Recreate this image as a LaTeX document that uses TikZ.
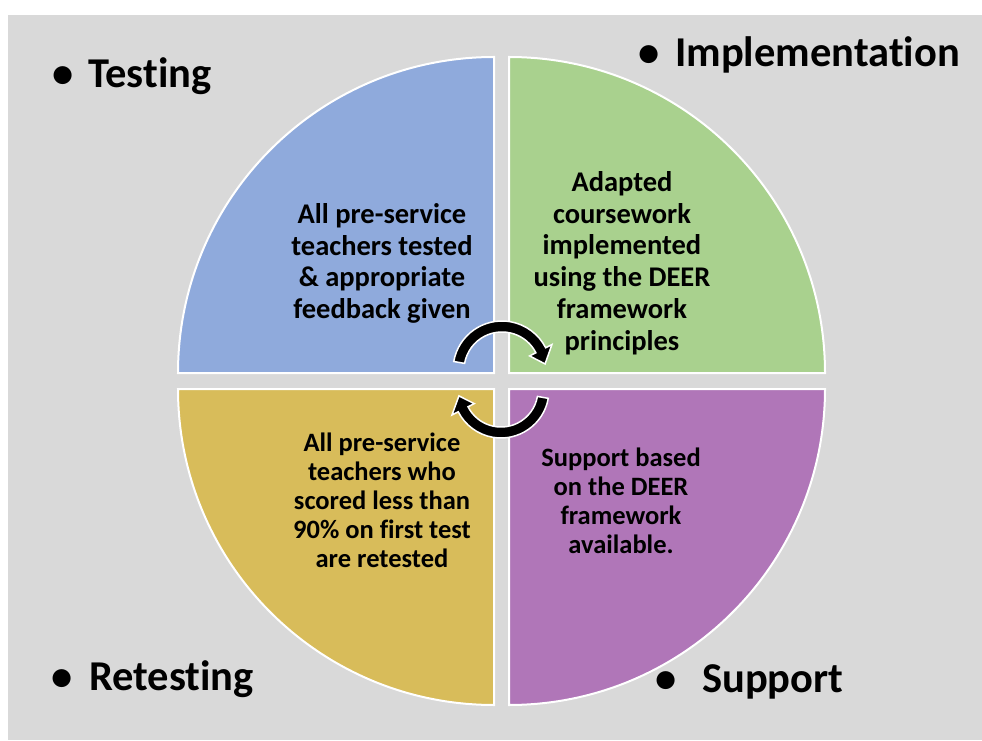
\documentclass[tikz,border=0pt]{standalone}
\usepackage{fontspec}
\setmainfont{Carlito}[Ligatures=NoCommon]
\definecolor{bgray}{HTML}{D9D9D9}
\definecolor{qblue}{HTML}{8FAADC}
\definecolor{qgreen}{HTML}{A9D18E}
\definecolor{qgold}{HTML}{D8BC5A}
\definecolor{qpurple}{HTML}{B076B8}
\newcommand{\bulgap}[1]{\llap{\textbullet\hspace{#1}}}
\begin{document}
\begin{tikzpicture}[x=1pt,y=1pt,
  quad/.style={draw=white,line width=2pt},
  body/.style={font=\bfseries\fontsize{28.5pt}{31.7pt}\selectfont,align=center,text=black,inner sep=0pt},
  bodysm/.style={font=\bfseries\fontsize{26.5pt}{29pt}\selectfont,align=center,text=black,inner sep=0pt},
  title/.style={font=\bfseries\fontsize{42.5pt}{50pt}\selectfont,anchor=base west,inner sep=0pt},
  cyc/.style={fill=black,draw=white,line width=1.5pt,line join=miter}]
\useasboundingbox (0,0) rectangle (982,740);
\fill[bgray] (8,0) rectangle (982,725);
% quadrants
\path[quad,fill=qblue] (494,367) -- ++(-316,0) arc[start angle=180,end angle=90,radius=316pt] -- cycle;
\path[quad,fill=qgreen] (509,367) -- ++(316,0) arc[start angle=0,end angle=90,radius=316pt] -- cycle;
\path[quad,fill=qgold] (494,351) -- ++(-316,0) arc[start angle=180,end angle=270,radius=316pt] -- cycle;
\path[quad,fill=qpurple] (509,351) -- ++(316,0) arc[start angle=0,end angle=-90,radius=316pt] -- cycle;
% body texts
\node[body] (txtBlue) at (382,476.5) {All pre-service\\teachers tested\\\& appropriate\\feedback given};
\node[body] (txtGreen) at (622,477) {Adapted\\coursework\\implemented\\using the DEER\\framework\\principles};
\node[bodysm] (txtGold) at (382,239.5) {All pre-service\\teachers who\\scored less than\\90\% on first test\\are retested};
\node[bodysm] (txtPurple) at (621,239.5) {Support based\\on the DEER\\framework\\available.};
% cycle arrows
\begin{scope}[shift={(502,370)}]
\path[cyc] (170:49) arc[start angle=170,end angle=27,radius=49pt] -- (27:56) -- (8:43.5) -- (27:31) -- (27:38) arc[start angle=27,end angle=170,radius=38pt] -- cycle;
\end{scope}
\begin{scope}[shift={(501,350)}]
\path[cyc] (-10:48) arc[start angle=-10,end angle=-153,radius=48pt] -- (-153:55) -- (-172:42.5) -- (-153:30) -- (-153:37) arc[start angle=-153,end angle=-10,radius=37pt] -- cycle;
\end{scope}
% titles
\node[title] (tTesting) at (88,652) {\bulgap{15pt}Testing};
\node[title] (tImpl) at (675,673) {\bulgap{16pt}Implementation};
\node[title] (tRetest) at (89,50) {\bulgap{17pt}Retesting};
\node[title] (tSupport) at (702,48) {\bulgap{26pt}Support};
\end{tikzpicture}
\end{document}
